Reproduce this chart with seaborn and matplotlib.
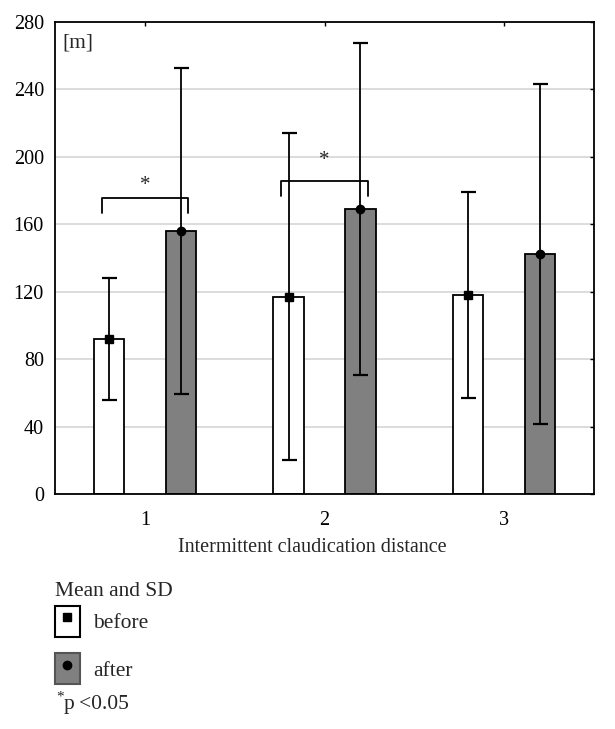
import numpy as np
import pandas as pd
import seaborn as sns
import matplotlib.pyplot as plt
from matplotlib.patches import Patch
from matplotlib.lines import Line2D
from matplotlib.legend_handler import HandlerTuple

# Data (metres)
categories = ["1", "2", "3"]
groups = ["before", "after"]
before_mean = [92, 117, 118]
after_mean = [156, 169, 142.5]
before_sd = [36, 97, 61]
after_sd = [96.5, 98.5, 101]
y_ticks = [0, 40, 80, 120, 160, 200, 240, 280]

df = pd.DataFrame({
    "category": categories * 2,
    "group": ["before"] * 3 + ["after"] * 3,
    "mean": before_mean + after_mean,
    "sd": before_sd + after_sd,
})

sns.set_style("white")
plt.rcParams["font.family"] = ["Liberation Serif", "DejaVu Serif"]
plt.rcParams["font.size"] = 14.5

fig = plt.figure(figsize=(6.15, 7.29), dpi=100)
ax = fig.add_axes([55 / 615, 1 - 494 / 729, 539 / 615, 472 / 729])

palette = {"before": "white", "after": "#808080"}
sns.barplot(data=df, x="category", y="mean", hue="group", order=categories,
            hue_order=groups, palette=palette, errorbar=None, gap=0.58,
            edgecolor="black", linewidth=1.3, legend=False, ax=ax, zorder=2)

# error bars + mean markers on top of each bar
markers = {"before": "s", "after": "o"}
centers = {}
for grp, container in zip(groups, ax.containers):
    sub = df[df["group"] == grp]
    xs = [p.get_x() + p.get_width() / 2 for p in container.patches]
    centers[grp] = xs
    ax.errorbar(xs, sub["mean"], yerr=sub["sd"], fmt="none", ecolor="black",
                elinewidth=1.3, capsize=5.4, capthick=1.6, zorder=3)
    ax.plot(xs, sub["mean"], linestyle="none", marker=markers[grp],
            color="black", markersize=6, zorder=4)

# significance brackets
for i, (yb, ys) in enumerate([(175.5, 183), (185.5, 198)]):
    x0 = centers["before"][i] - 0.04
    x1 = centers["after"][i] + 0.04
    ax.plot([x0, x0, x1, x1], [yb - 9, yb, yb, yb - 9], color="black",
            lw=1.3, zorder=3)
    ax.text((x0 + x1) / 2, ys, "*", ha="center", va="center", fontsize=15)

ax.set_ylim(0, 280)
ax.set_xlim(-0.5, 2.5)
ax.set_yticks(y_ticks)
ax.yaxis.grid(True, color="#dcdcdc", lw=1.4, zorder=0)
ax.set_axisbelow(True)
for s in ax.spines.values():
    s.set_visible(True)
    s.set_color("black")
    s.set_linewidth(1.3)
ax.tick_params(axis="both", direction="in", length=3, width=1, top=True,
               right=True, labelsize=14.5, colors="black")
ax.tick_params(axis="x", pad=12)
ax.tick_params(axis="y", pad=8)
ax.set_ylabel("")
ax.set_xlabel("Intermittent claudication distance", fontsize=14.5)
ax.xaxis.set_label_coords((312 - 55) / 539, -0.094)
ax.text(0.013, 0.955, "[m]", transform=ax.transAxes, ha="left", va="center",
        fontsize=15.5)

# legend below the plot
fig.text(55 / 615, 1 - 591 / 729, "Mean and SD", fontsize=15.5, ha="left",
         va="center")
handles = [
    (Patch(facecolor="white", edgecolor="black", lw=1.5),
     Line2D([], [], marker="s", color="black", ls="none", markersize=6)),
    (Patch(facecolor="#808080", edgecolor="#555555", lw=1.5),
     Line2D([], [], marker="o", color="black", ls="none", markersize=6)),
]
leg = fig.legend(handles, groups, loc="upper left",
                 bbox_to_anchor=(55 / 615, 1 - 606 / 729), frameon=False,
                 handler_map={tuple: HandlerTuple(ndivide=1)},
                 handlelength=1.16, handleheight=1.84, handletextpad=0.6,
                 labelspacing=0.76, borderpad=0, borderaxespad=0,
                 fontsize=15.5)
fig.text(56 / 615, 1 - 697 / 729, "*", fontsize=11, ha="left", va="center")
fig.text(64 / 615, 1 - 705 / 729, "p\u2009<0.05", fontsize=15.5, ha="left",
         va="center")

fig.savefig("out.png", dpi=100)
